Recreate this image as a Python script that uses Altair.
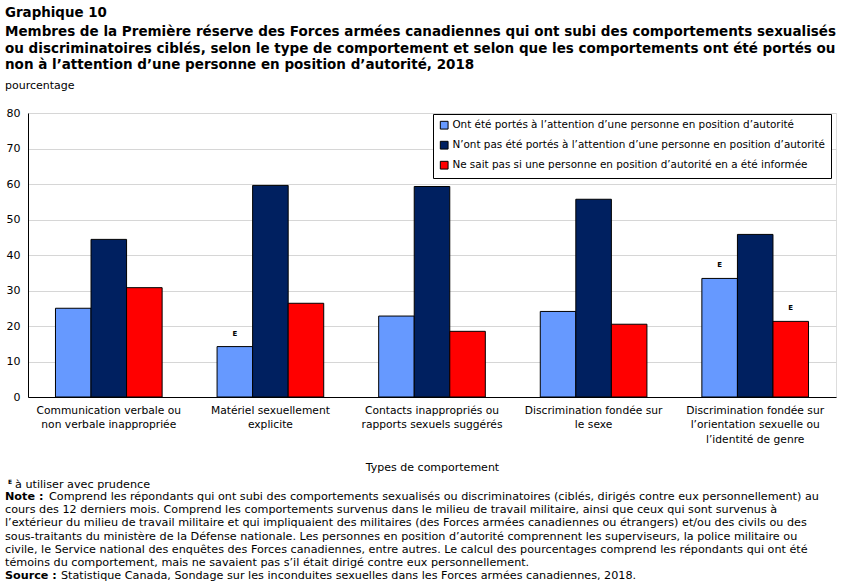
import altair as alt
import pandas as pd

# Behaviour types (axis labels split on "\n")
categories = [
    "Communication verbale ou\nnon verbale inappropriée",
    "Matériel sexuellement\nexplicite",
    "Contacts inappropriés ou\nrapports sexuels suggérés",
    "Discrimination fondée sur\nle sexe",
    "Discrimination fondée sur\nl\u2019orientation sexuelle ou\nl\u2019identité de genre",
]
series = [
    "Ont été portés à l\u2019attention d\u2019une personne en position d\u2019autorité",
    "N\u2019ont pas été portés à l\u2019attention d\u2019une personne en position d\u2019autorité",
    "Ne sait pas si une personne en position d\u2019autorité en a été informée",
]
colors = ["#6699ff", "#002060", "#ff0000"]

reported = [25.0, 14.2, 22.8, 24.1, 33.4]
not_reported = [44.4, 59.6, 59.3, 55.7, 45.8]
unknown = [30.8, 26.4, 18.5, 20.5, 21.3]
# "E" quality flags (use with caution)
reported_flag = ["", "E", "", "", "E"]
not_reported_flag = ["", "", "", "", ""]
unknown_flag = ["", "", "", "", "E"]

rows = []
for vals, flags, s in zip(
    [reported, not_reported, unknown],
    [reported_flag, not_reported_flag, unknown_flag],
    series,
):
    for c, v, f in zip(categories, vals, flags):
        rows.append({"cat": c, "serie": s, "val": v, "flag": f})
df = pd.DataFrame(rows)

FONT = "DejaVu Sans"

x_enc = alt.X(
    "cat:N",
    sort=categories,
    scale=alt.Scale(paddingInner=0.34, paddingOuter=0.17),
    axis=alt.Axis(
        title="Types de comportement",
        labelAngle=0,
        ticks=False,
        labelPadding=8,
        labelFont=FONT,
        labelFontSize=10.7,
        labelColor="black",
        labelLineHeight=14.5,
        labelExpr="split(datum.label, '\\n')",
        labelLimit=200,
        titleFont=FONT,
        titleFontSize=11,
        titleFontWeight="normal",
        titleColor="black",
        titlePadding=18,
        domainColor="black",
    ),
)
xo_enc = alt.XOffset("serie:N", sort=series)
y_enc = alt.Y(
    "val:Q",
    scale=alt.Scale(domain=[0, 80]),
    axis=alt.Axis(
        title=None,
        values=list(range(0, 81, 10)),
        ticks=False,
        labelPadding=8,
        labelFont=FONT,
        labelFontSize=11,
        labelColor="black",
        labelOverlap=False,
        domainColor="black",
        gridColor="#d6d6d6",
    ),
)

bars = alt.Chart(df).mark_bar(stroke="black", strokeWidth=1).encode(
    x=x_enc,
    xOffset=xo_enc,
    y=y_enc,
    color=alt.Color(
        "serie:N",
        sort=series,
        scale=alt.Scale(domain=series, range=colors),
        legend=alt.Legend(
            title=None,
            orient="none",
            legendX=405,
            legendY=1,
            fillColor="white",
            strokeColor="black",
            padding=6,
            symbolType="square",
            symbolSize=60,
            symbolStrokeColor="black",
            symbolStrokeWidth=1,
            labelFont=FONT,
            labelFontSize=10.4,
            labelColor="black",
            labelLimit=500,
            labelOffset=3,
            rowPadding=7,
        ),
    ),
)

flags = alt.Chart(df).mark_text(
    dy=-13, font=FONT, fontSize=7, fontWeight="bold", color="black"
).encode(x=x_enc, xOffset=xo_enc, y=y_enc, text="flag:N")


def label(txt, x, y, size=11, weight="normal"):
    return alt.Chart(pd.DataFrame({"t": [txt]})).mark_text(
        align="left", baseline="middle", font=FONT, fontSize=size,
        fontWeight=weight, color="black",
    ).encode(x=alt.value(x), y=alt.value(y), text="t:N")


title_lines = [
    "Membres de la Première réserve des Forces armées canadiennes qui ont subi des comportements sexualisés",
    "ou discriminatoires  ciblés, selon le type de comportement et selon que les comportements ont été portés ou",
    "non à l\u2019attention d\u2019une personne en position d\u2019autorité, 2018",
]
note_lines = [
    "Comprend les répondants qui ont subi des comportements sexualisés ou discriminatoires (ciblés, dirigés contre eux personnellement) au",
    "cours des 12 derniers mois. Comprend les comportements survenus dans le milieu de travail militaire, ainsi que ceux qui sont survenus à",
    "l\u2019extérieur du milieu de travail militaire et qui impliquaient des militaires (des Forces armées canadiennes ou étrangers) et/ou des civils ou des",
    "sous-traitants du ministère de la Défense nationale. Les personnes en position d\u2019autorité comprennent les superviseurs, la police militaire ou",
    "civile, le Service national des enquêtes des Forces canadiennes, entre autres. Le calcul des pourcentages comprend les répondants qui ont été",
    "témoins du comportement, mais ne savaient pas s\u2019il était dirigé contre eux personnellement.",
]

# Positions below are relative to the plot area's top-left corner
X0 = -23
texts = [label("Graphique  10", X0, -100, 13.4, "bold")]
for i, line in enumerate(title_lines):
    texts.append(label(line, X0, -81 + i * 16.5, 13.5, "bold"))
texts.append(label("pourcentage", X0, -27, 11))
texts.append(label("E", X0 + 3, 369, 6, "bold"))
texts.append(label("à utiliser avec prudence", X0 + 10, 372, 11.2))
texts.append(label("Note :", X0, 384, 11.2, "bold"))
texts.append(label(note_lines[0], X0 + 44, 384, 11.2))
for i, line in enumerate(note_lines[1:]):
    texts.append(label(line, X0, 397.2 + i * 13.2, 11.2))
texts.append(label("Source :", X0, 463, 11.2, "bold"))
texts.append(label("Statistique Canada, Sondage sur les inconduites sexuelles dans les Forces armées canadiennes, 2018.", X0 + 56, 463, 11.2))

chart = alt.layer(bars, flags, *texts).properties(
    width=808,
    height=284,
    padding={"left": 28, "top": 113, "right": 14, "bottom": 189},
    autosize=alt.AutoSizeParams(type="none"),
).configure_view(stroke="black", strokeWidth=1).configure(background="white")

chart.save("out.html", embed_options={"renderer": "svg", "actions": False})
